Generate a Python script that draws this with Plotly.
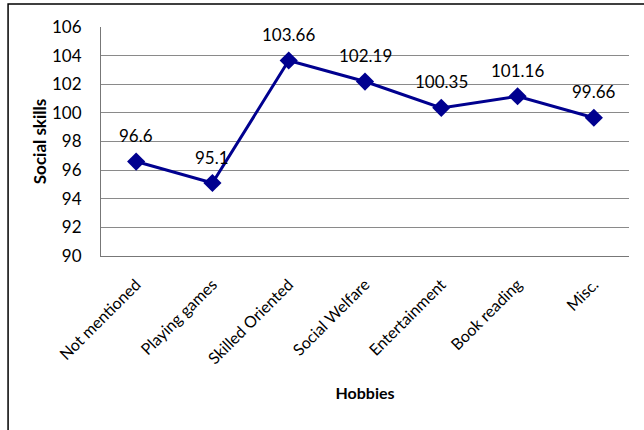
import plotly.graph_objects as go

categories = ["Not mentioned", "Playing games", "Skilled Oriented", "Social Welfare",
              "Entertainment", "Book reading", "Misc."]
values = [96.6, 95.1, 103.66, 102.19, 100.35, 101.16, 99.66]
labels = ["96.6", "95.1", "103.66", "102.19", "100.35", "101.16", "99.66"]
y_ticks = [90, 92, 94, 96, 98, 100, 102, 104, 106]

font_family = "Lato, 'Open Sans', sans-serif"

fig = go.Figure()
fig.add_trace(go.Scatter(
    x=categories, y=values, mode="lines+markers",
    line=dict(color="#00008f", width=3),
    marker=dict(symbol="diamond", size=14, color="#00008f"),
    cliponaxis=False, showlegend=False,
))

annotations = [dict(x=c, y=v, text=t, showarrow=False, yanchor="middle", yshift=26,
                    font=dict(family=font_family, size=17, color="black"))
               for c, v, t in zip(categories, values, labels)]

fig.update_layout(
    width=644, height=430,
    margin=dict(l=101, r=15, t=27, b=174),
    paper_bgcolor="white", plot_bgcolor="white",
    font=dict(family=font_family, size=16, color="black"),
    xaxis=dict(
        type="category", tickangle=-45, showgrid=False,
        showline=True, linecolor="#777777", linewidth=1,
        ticks="", ticklabelstandoff=12, tickfont=dict(size=16),
        title=dict(text="<b>Hobbies</b>", font=dict(size=16), standoff=21),
    ),
    yaxis=dict(
        range=[90, 106], tickvals=y_ticks,
        showgrid=True, gridcolor="#8a8a8a", gridwidth=1,
        showline=True, linecolor="#777777", linewidth=1,
        ticks="", ticklabelstandoff=15, tickfont=dict(size=17),
        zeroline=False,
        title=dict(text="<b>Social skills</b>", font=dict(size=17), standoff=1),
    ),
    annotations=annotations,
    shapes=[dict(type="rect", xref="paper", yref="paper",
                 x0=-0.176, x1=1.3, y0=-1.2, y1=1.1,
                 line=dict(color="black", width=1.5), fillcolor="rgba(0,0,0,0)")],
)

fig.write_html("out.html")
